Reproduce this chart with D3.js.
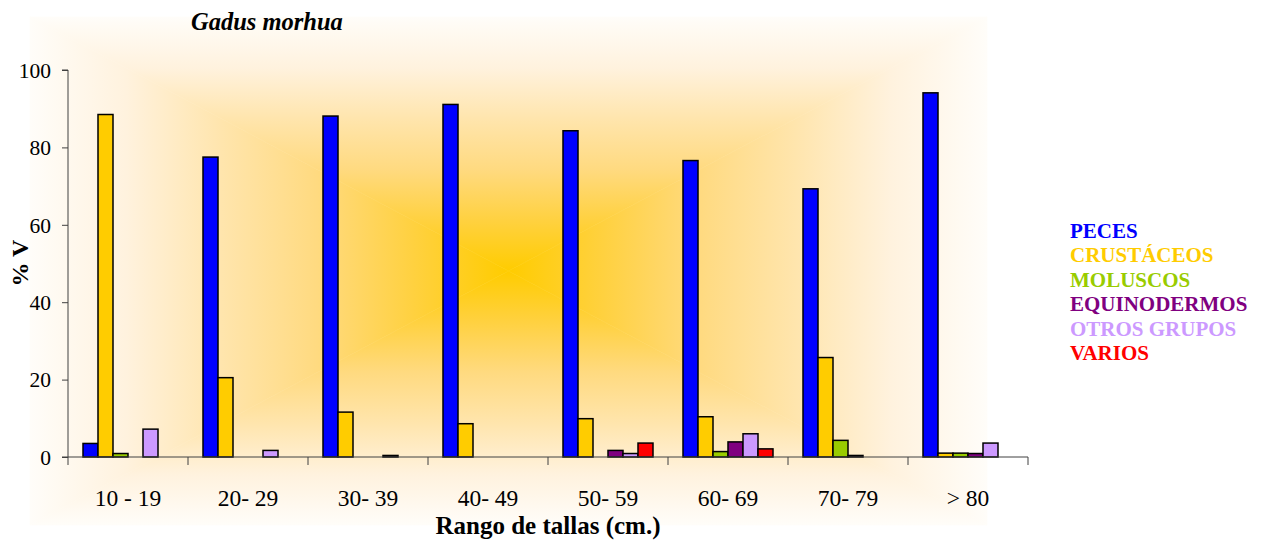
<!DOCTYPE html>
<html>
<head>
<meta charset="utf-8">
<script src="https://cdn.jsdelivr.net/npm/d3@7"></script>
<style>
	body { margin: 0; background: #fff; }
</style>
</head>
<body>
<div id="chart"></div>
<script>

// categories (x axis)
var categories = ["10 - 19", "20- 29", "30- 39", "40- 49", "50- 59", "60- 69", "70- 79", "> 80"];

// series values (% V)
var peces        = [3.5, 77.5, 88.1, 91.1, 84.3, 76.6, 69.3, 94.1];
var crustaceos   = [88.5, 20.5, 11.6, 8.6, 9.9, 10.4, 25.7, 1.0];
var moluscos     = [0.9, 0, 0, 0, 0, 1.4, 4.3, 1.0];
var equinodermos = [0, 0, 0, 0, 1.7, 3.9, 0.4, 0.9];
var otrosGrupos  = [7.2, 1.7, 0.4, 0, 0.9, 6.0, 0, 3.6];
var varios       = [0, 0, 0, 0, 3.6, 2.1, 0, 0];

var seriesNames  = ["PECES", "CRUSTÁCEOS", "MOLUSCOS", "EQUINODERMOS", "OTROS GRUPOS", "VARIOS"];
var seriesColors = ["#0000ff", "#ffcc00", "#99cc00", "#800080", "#cc99ff", "#ff0000"];
var yTicks = [0, 20, 40, 60, 80, 100];

var series = [peces, crustaceos, moluscos, equinodermos, otrosGrupos, varios];

var serif = "'Liberation Serif', 'Times New Roman', Times, 'DejaVu Serif', serif";


/*
 *	PROPERTIES
 */
var width = 1264, height = 540;
var plot = { left: 68, right: 1028, top: 70, bottom: 457 };
var bg = { x0: 30, x1: 987, y0: 17, y1: 525 };	// gradient area

var svg = d3.select("#chart").append("svg")
	.attr("width", width)
	.attr("height", height)
	.style("font-family", serif);

var defs = svg.append("defs");


/*
 *	BACKGROUND: rectangle gradient from centre (4 triangles)
 */
var cx = (bg.x0 + bg.x1) / 2, cy = (bg.y0 + bg.y1) / 2;
var stops = [[0, "#fffdf9"], [0.2, "#fff2de"], [0.4, "#ffe5ad"], [0.6, "#ffda80"], [0.8, "#ffd140"], [1, "#ffcc00"]];

var sides = [
	{ id: "gTop",    pts: [[bg.x0, bg.y0], [bg.x1, bg.y0], [cx, cy]], from: [cx, bg.y0] },
	{ id: "gBottom", pts: [[bg.x0, bg.y1], [bg.x1, bg.y1], [cx, cy]], from: [cx, bg.y1] },
	{ id: "gLeft",   pts: [[bg.x0, bg.y0], [bg.x0, bg.y1], [cx, cy]], from: [bg.x0, cy] },
	{ id: "gRight",  pts: [[bg.x1, bg.y0], [bg.x1, bg.y1], [cx, cy]], from: [bg.x1, cy] }
];

sides.forEach(function(s){
	var lg = defs.append("linearGradient")
		.attr("id", s.id)
		.attr("gradientUnits", "userSpaceOnUse")
		.attr("x1", s.from[0]).attr("y1", s.from[1])
		.attr("x2", cx).attr("y2", cy);
	stops.forEach(function(st){
		lg.append("stop").attr("offset", st[0]).attr("stop-color", st[1]);
	});
	svg.append("polygon")
		.attr("points", s.pts.map(function(p){ return p.join(","); }).join(" "))
		.attr("fill", "url(#" + s.id + ")")
		.attr("stroke", "url(#" + s.id + ")")
		.attr("stroke-width", 0.6);
});


/*
 *	SCALES
 */
var x0 = d3.scaleBand()
	.domain(categories)
	.range([plot.left, plot.right]);

var x1 = d3.scaleBand()
	.domain(seriesNames)
	.range([x0.bandwidth() * 0.125, x0.bandwidth() * 0.875]);

var y = d3.scaleLinear()
	.domain([0, 100])
	.range([plot.bottom, plot.top]);


/*
 *	BARS
 */
var g = svg.append("g");

var groups = g.selectAll("g.group")
	.data(categories).enter()
	.append("g")
		.attr("class", "group")
		.attr("transform", function(d){ return "translate(" + x0(d) + ",0)"; });

groups.selectAll("rect")
	.data(function(d, i){
		return series.map(function(s, k){ return { name: seriesNames[k], value: s[i], color: seriesColors[k] }; })
			.filter(function(b){ return b.value > 0; });
	}).enter()
	.append("rect")
		.attr("x", function(d){ return x1(d.name); })
		.attr("y", function(d){ return y(d.value); })
		.attr("width", x1.bandwidth())
		.attr("height", function(d){ return y(0) - y(d.value); })
		.style("fill", function(d){ return d.color; })
		.style("stroke", "#000")
		.style("stroke-width", 1.5);


/*
 *	AXES
 */
var yAxis = d3.axisLeft(y)
	.tickValues(yTicks)
	.tickSize(6)
	.tickPadding(11);

var yg = svg.append("g")
	.attr("class", "y axis")
	.attr("transform", "translate(" + plot.left + ",0)")
	.call(yAxis)
	.attr("font-family", serif)
	.attr("font-size", 21);

yg.select(".domain").attr("stroke", "#404040").attr("d", "M-6," + plot.top + "H0V" + plot.bottom + "H-6");
yg.selectAll(".tick line").attr("stroke", "#404040");
yg.selectAll(".tick text")
	.style("font-family", serif)
	.style("font-size", "21.5px")
	.attr("fill", "#000")
	.attr("dy", "0.34em");

// x axis: ticks at category boundaries
var xg = svg.append("g").attr("class", "x axis");

xg.append("line")
	.attr("x1", plot.left).attr("x2", plot.right)
	.attr("y1", plot.bottom).attr("y2", plot.bottom)
	.attr("stroke", "#404040");

xg.selectAll("line.tick")
	.data(categories.concat(["end"])).enter()
	.append("line")
		.attr("class", "tick")
		.attr("x1", function(d, i){ return plot.left + i * x0.bandwidth(); })
		.attr("x2", function(d, i){ return plot.left + i * x0.bandwidth(); })
		.attr("y1", plot.bottom)
		.attr("y2", plot.bottom + 8)
		.attr("stroke", "#404040");

xg.selectAll("text.cat")
	.data(categories).enter()
	.append("text")
		.attr("class", "cat")
		.attr("x", function(d){ return x0(d) + x0.bandwidth() / 2; })
		.attr("y", 506)
		.attr("text-anchor", "middle")
		.style("font-family", serif)
		.style("font-size", "23.5px")
		.text(function(d){ return d; });


/*
 *	LABELS + TITLE
 */
svg.append("text")
	.attr("x", 548)
	.attr("y", 534)
	.attr("text-anchor", "middle")
	.style("font-family", serif)
	.style("font-size", "25px")
	.style("font-weight", "bold")
	.text("Rango de tallas (cm.)");

svg.append("text")
	.attr("transform", "translate(28,263) rotate(-90)")
	.attr("text-anchor", "middle")
	.style("font-family", serif)
	.style("font-size", "24px")
	.style("font-weight", "bold")
	.text("% V");

svg.append("text")
	.attr("x", 191)
	.attr("y", 30)
	.style("font-family", serif)
	.style("font-size", "24.5px")
	.style("font-weight", "bold")
	.style("font-style", "italic")
	.text("Gadus morhua");


/*
 *	LEGEND (coloured text only)
 */
svg.append("g").selectAll("text")
	.data(seriesNames).enter()
	.append("text")
		.attr("x", 1070)
		.attr("y", function(d, i){ return 238 + i * 24.4; })
		.style("font-family", serif)
		.style("font-size", "21px")
		.style("font-weight", "bold")
		.style("fill", function(d, i){ return seriesColors[i]; })
		.text(function(d){ return d; });

</script>
</body>
</html>
